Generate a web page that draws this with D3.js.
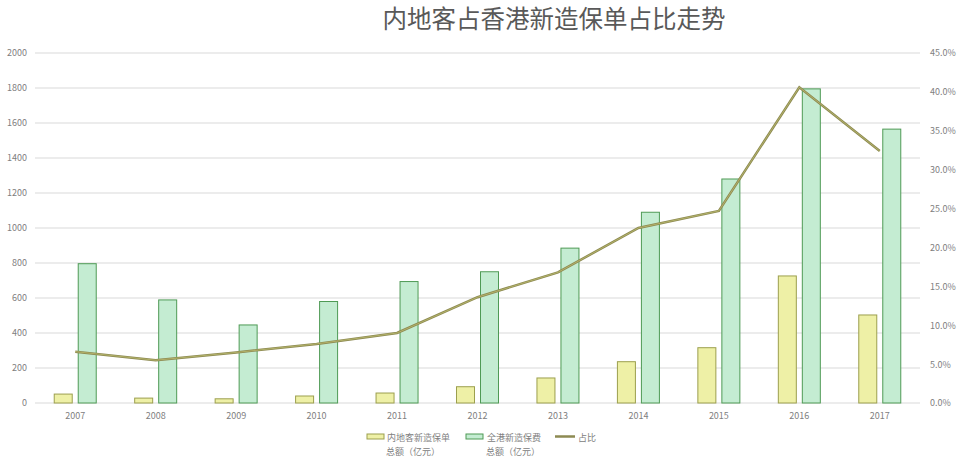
<!DOCTYPE html>
<html>
<head>
<meta charset="UTF-8">
<style>
  body { margin: 0; background: #fff; }
  text { font-family: "Noto Sans CJK SC", "Noto Sans", sans-serif; }
</style>
</head>
<body>
<svg id="chart" width="960" height="463"></svg>
<script src="https://d3js.org/d3.v7.min.js"></script>
<script>
// values
const years = ["2007","2008","2009","2010","2011","2012","2013","2014","2015","2016","2017"];
const mainland = [51, 28, 24, 40, 57, 93, 143, 236, 316, 726, 503];
const total = [796, 589, 446, 580, 694, 750, 885, 1090, 1280, 1795, 1565];
const share = [0.066, 0.055, 0.065, 0.076, 0.090, 0.136, 0.168, 0.225, 0.247, 0.406, 0.324];
const leftTicks = [0,200,400,600,800,1000,1200,1400,1600,1800,2000];
const rightTicks = [0,0.05,0.10,0.15,0.20,0.25,0.30,0.35,0.40,0.45];

const svg = d3.select("#chart");
const plotLeft = 35, plotRight = 920, plotTop = 53, plotBottom = 403;

let x = d3.scaleBand().domain(years).range([plotLeft, plotRight]);
let y = d3.scaleLinear().domain([0, 2000]).range([plotBottom, plotTop]);
let y2 = d3.scaleLinear().domain([0, 0.45]).range([plotBottom, plotTop]);

// title
svg.append("text")
  .attr("x", 554).attr("y", 28)
  .attr("text-anchor", "middle")
  .attr("font-size", 24.5)
  .attr("fill", "#595959")
  .text("内地客占香港新造保单占比走势");

// gridlines
svg.append("g")
  .selectAll("line")
  .data(leftTicks)
  .enter()
  .append("line")
  .attr("x1", plotLeft).attr("x2", plotRight)
  .attr("y1", d => y(d)).attr("y2", d => y(d))
  .attr("stroke", "#d9d9d9")
  .attr("stroke-width", 1);

// left axis
let yAxis = svg.append("g")
  .attr("transform", "translate(" + plotLeft + ",0)")
  .call(d3.axisLeft(y).tickValues(leftTicks).tickSize(0).tickPadding(8).tickFormat(d3.format("d")));
yAxis.select(".domain").remove();
yAxis.selectAll("text").attr("font-size", 9).attr("fill", "#808080");

// right axis
let y2Axis = svg.append("g")
  .attr("transform", "translate(" + plotRight + ",0)")
  .call(d3.axisRight(y2).tickValues(rightTicks).tickSize(0).tickPadding(10).tickFormat(d3.format(".1%")));
y2Axis.select(".domain").remove();
y2Axis.selectAll("text").attr("font-size", 9).attr("fill", "#808080");

// bottom axis
let xAxis = svg.append("g")
  .attr("transform", "translate(0," + plotBottom + ")")
  .call(d3.axisBottom(x).tickSize(0).tickPadding(10));
xAxis.select(".domain").remove();
xAxis.selectAll("text").attr("font-size", 9).attr("fill", "#808080");

const barW = 18, gap = 3;

// mainland bars
svg.append("g")
  .selectAll("rect")
  .data(years)
  .enter()
  .append("rect")
  .attr("x", d => x(d) + x.bandwidth() / 2 - gap - barW)
  .attr("y", (d, i) => y(mainland[i]))
  .attr("width", barW)
  .attr("height", (d, i) => plotBottom - y(mainland[i]))
  .attr("fill", "#eef0a6")
  .attr("stroke", "#9c9f4e")
  .attr("stroke-width", 1);

// total bars
svg.append("g")
  .selectAll("rect")
  .data(years)
  .enter()
  .append("rect")
  .attr("x", d => x(d) + x.bandwidth() / 2 + gap)
  .attr("y", (d, i) => y(total[i]))
  .attr("width", barW)
  .attr("height", (d, i) => plotBottom - y(total[i]))
  .attr("fill", "#c4ecd2")
  .attr("stroke", "#4f9a55")
  .attr("stroke-width", 1);

// share line
let line = d3.line()
  .x((d, i) => x(years[i]) + x.bandwidth() / 2)
  .y(d => y2(d));

svg.append("path")
  .datum(share)
  .attr("d", line)
  .attr("fill", "none")
  .attr("stroke", "#8d8a52")
  .attr("stroke-width", 2.5);

svg.append("path")
  .datum(share)
  .attr("d", line)
  .attr("fill", "none")
  .attr("stroke", "#e6ea8a")
  .attr("stroke-width", 0.6)
  .attr("opacity", 0.7);

// legend
let legend = svg.append("g").attr("font-size", 9).attr("fill", "#808080");

legend.append("rect").attr("x", 367).attr("y", 434).attr("width", 17).attr("height", 5)
  .attr("fill", "#eef0a6").attr("stroke", "#9c9f4e");
legend.append("text").attr("x", 387).attr("y", 441).attr("fill", "#808080").text("内地客新造保单");
legend.append("text").attr("x", 386).attr("y", 455).attr("fill", "#808080").text("总额（亿元）");

legend.append("rect").attr("x", 466).attr("y", 434).attr("width", 17).attr("height", 5)
  .attr("fill", "#c4ecd2").attr("stroke", "#4f9a55");
legend.append("text").attr("x", 487).attr("y", 441).attr("fill", "#808080").text("全港新造保费");
legend.append("text").attr("x", 486).attr("y", 455).attr("fill", "#808080").text("总额（亿元）");

legend.append("line").attr("x1", 555).attr("x2", 575).attr("y1", 436.5).attr("y2", 436.5)
  .attr("stroke", "#8d8a52").attr("stroke-width", 2.5);
legend.append("text").attr("x", 578).attr("y", 441).attr("fill", "#808080").text("占比");
</script>
</body>
</html>
